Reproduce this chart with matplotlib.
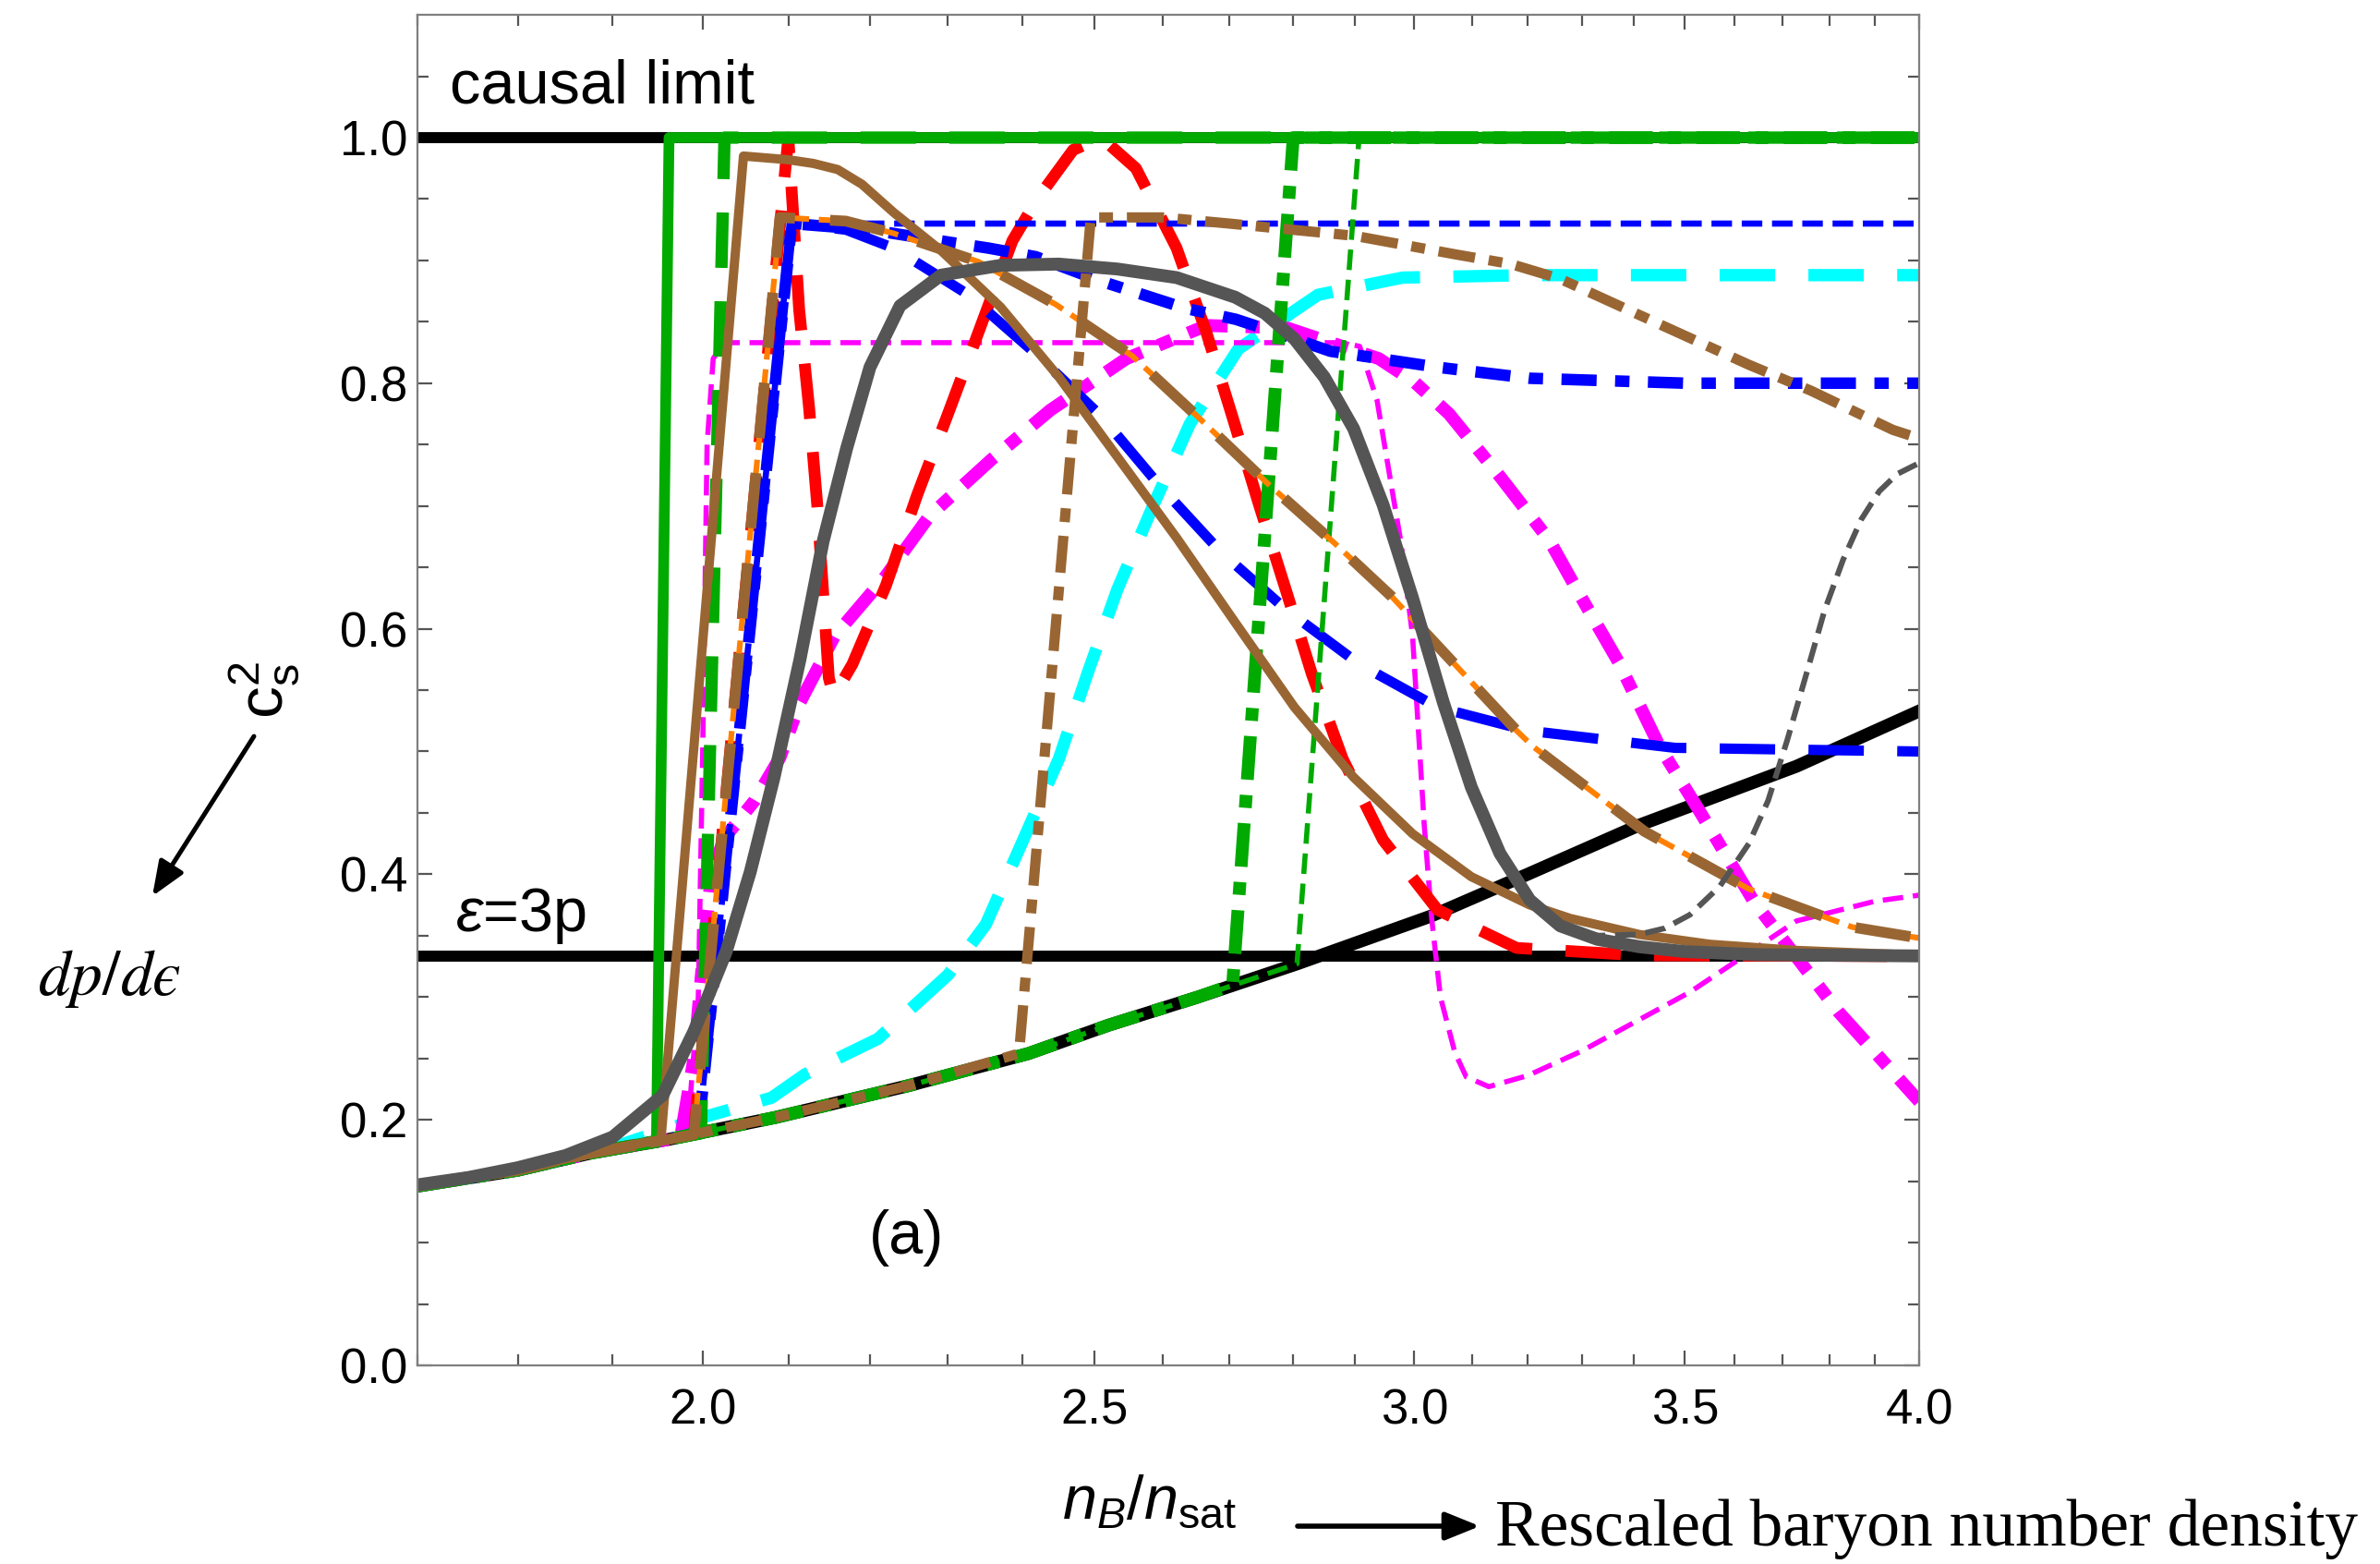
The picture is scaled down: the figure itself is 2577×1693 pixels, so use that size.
import matplotlib.pyplot as plt
from matplotlib.ticker import NullFormatter

plt.rcParams['font.family'] = ['Liberation Sans', 'DejaVu Sans']
plt.rcParams['mathtext.fontset'] = 'custom'
plt.rcParams['mathtext.rm'] = 'Liberation Sans'
plt.rcParams['mathtext.it'] = 'Liberation Sans:italic'
plt.rcParams['lines.scale_dashes'] = False

# nuclear EOS baseline (black)
base_x = [1.70, 1.80, 1.877, 1.961, 2.085, 2.25, 2.408, 2.52, 2.652, 2.806, 3.029, 3.20, 3.41, 3.73, 4.00]
base_y = [0.146, 0.159, 0.173, 0.184, 0.202, 0.228, 0.254, 0.277, 0.300, 0.327, 0.366, 0.400, 0.440, 0.488, 0.533]

# each curve: points after it leaves the baseline
green_x = [1.948, 1.962, 4.0]
green_y = [0.182, 1.0, 1.0]
green_dash_x = [1.998, 2.025, 4.0]
green_dash_y = [0.189, 1.0, 1.0]
green_dd_x = [2.705, 2.80, 4.0]
green_dd_y = [0.310, 1.0, 1.0]
green_thin_x = [2.806, 2.907, 4.0]
green_thin_y = [0.327, 1.0, 1.0]

red_x = [1.99, 2.10, 2.113, 2.125, 2.135, 2.143, 2.149, 2.155, 2.178, 2.22, 2.26, 2.30, 2.34, 2.386,
         2.42, 2.47, 2.51, 2.56, 2.62, 2.665, 2.705, 2.746, 2.788, 2.83, 2.88, 2.947, 3.04, 3.18, 3.41, 4.0]
red_y = [0.188, 1.0, 0.86, 0.78, 0.70, 0.62, 0.56, 0.545, 0.571, 0.635, 0.709, 0.775, 0.841, 0.916,
         0.95, 0.99, 1.0, 0.975, 0.91, 0.841, 0.772, 0.701, 0.632, 0.563, 0.494, 0.428, 0.371, 0.34, 0.334, 0.3333]

blue_thin_x = [1.995, 2.104, 4.0]
blue_thin_y = [0.190, 0.93, 0.93]
blue_dd_x = [1.995, 2.104, 2.2, 2.3, 2.354, 2.418, 2.51, 2.633, 2.71, 2.78, 2.86, 3.04, 3.204, 3.5, 4.0]
blue_dd_y = [0.190, 0.93, 0.925, 0.915, 0.91, 0.903, 0.883, 0.861, 0.852, 0.84, 0.826, 0.813, 0.804, 0.80, 0.80]
blue_long_x = [1.995, 2.104, 2.17, 2.23, 2.327, 2.418, 2.51, 2.594, 2.686, 2.79, 2.908, 3.04, 3.2, 3.48, 4.0]
blue_long_y = [0.190, 0.93, 0.925, 0.91, 0.872, 0.824, 0.773, 0.717, 0.663, 0.615, 0.571, 0.536, 0.517, 0.503, 0.50]

cyan_x = [1.89, 1.95, 2.005, 2.08, 2.12, 2.21, 2.30, 2.35, 2.40, 2.45, 2.49, 2.533, 2.585, 2.64, 2.714,
          2.84, 2.98, 3.2, 4.0]
cyan_y = [0.175, 0.19, 0.203, 0.218, 0.237, 0.266, 0.318, 0.359, 0.427, 0.494, 0.563, 0.632, 0.70, 0.767, 0.828,
          0.872, 0.886, 0.888, 0.888]

mag_dd_x = [1.975, 1.99, 2.0, 2.01, 2.025, 2.037, 2.06, 2.09, 2.114, 2.156, 2.22, 2.276, 2.358, 2.438, 2.546,
            2.665, 2.79, 2.94, 3.0, 3.06, 3.15, 3.24, 3.30, 3.37, 3.45, 3.53, 3.64, 3.82, 4.0]
mag_dd_y = [0.186, 0.25, 0.33, 0.40, 0.43, 0.44, 0.46, 0.495, 0.54, 0.594, 0.643, 0.692, 0.738, 0.778, 0.82,
            0.847, 0.845, 0.82, 0.801, 0.775, 0.724, 0.672, 0.625, 0.573, 0.504, 0.451, 0.378, 0.288, 0.215]
mag_thin_x = [1.97, 1.985, 1.995, 2.0, 2.005, 2.012, 2.025, 2.88, 2.908, 2.937, 2.957, 2.977, 2.997, 3.007,
              3.017, 3.03, 3.045, 3.07, 3.09, 3.13, 3.20, 3.30, 3.51, 3.73, 3.9, 4.0]
mag_thin_y = [0.186, 0.21, 0.30, 0.50, 0.75, 0.82, 0.833, 0.833, 0.83, 0.786, 0.728, 0.671, 0.594, 0.517,
              0.44, 0.363, 0.30, 0.255, 0.235, 0.227, 0.236, 0.256, 0.304, 0.362, 0.378, 0.383]

brown_dash_x = [1.99, 2.09, 2.17, 2.23, 2.34, 2.446, 2.555, 2.653, 2.76, 2.866, 2.962, 3.07, 3.18, 3.21,
                3.42, 3.63, 3.85, 4.0]
brown_dash_y = [0.188, 0.935, 0.932, 0.922, 0.899, 0.864, 0.822, 0.772, 0.718, 0.67, 0.626, 0.571, 0.517, 0.504,
                0.435, 0.388, 0.357, 0.348]
brown_dd_x = [2.395, 2.495, 2.6, 2.7, 2.9, 3.07, 3.17, 3.26, 3.45, 3.63, 3.76, 3.94, 4.0]
brown_dd_y = [0.254, 0.935, 0.935, 0.93, 0.92, 0.905, 0.897, 0.885, 0.848, 0.815, 0.794, 0.762, 0.755]
brown_x = [1.953, 2.047, 2.10, 2.13, 2.16, 2.19, 2.23, 2.291, 2.37, 2.45, 2.533, 2.62, 2.709, 2.802, 2.898,
           2.997, 3.099, 3.204, 3.279, 3.41, 3.55, 3.73, 4.0]
brown_y = [0.184, 0.985, 0.982, 0.979, 0.974, 0.962, 0.939, 0.908, 0.862, 0.805, 0.74, 0.674, 0.605, 0.536, 0.479,
           0.433, 0.398, 0.375, 0.364, 0.351, 0.343, 0.338, 0.334]

gray_x = [1.70, 1.75, 1.80, 1.85, 1.90, 1.955, 1.99, 2.027, 2.055, 2.083, 2.114, 2.142, 2.171, 2.20, 2.238,
          2.291, 2.37, 2.45, 2.533, 2.62, 2.709, 2.755, 2.802, 2.85, 2.898, 2.947, 2.997, 3.05, 3.099,
          3.15, 3.204, 3.26, 3.33, 3.41, 3.5, 3.65, 4.0]
gray_y = [0.147, 0.153, 0.161, 0.171, 0.186, 0.22, 0.272, 0.337, 0.402, 0.479, 0.575, 0.671, 0.747, 0.813, 0.863,
          0.888, 0.896, 0.897, 0.893, 0.886, 0.870, 0.857, 0.836, 0.805, 0.763, 0.701, 0.625, 0.540, 0.471,
          0.417, 0.379, 0.358, 0.347, 0.341, 0.337, 0.3345, 0.3335]
gray_dash_x = [3.15, 3.204, 3.26, 3.33, 3.41, 3.46, 3.51, 3.57, 3.63, 3.67, 3.71, 3.75, 3.79, 3.83, 3.87,
               3.91, 3.95, 4.0]
gray_dash_y = [0.417, 0.379, 0.358, 0.35, 0.351, 0.356, 0.367, 0.39, 0.425, 0.46, 0.509, 0.562, 0.615, 0.656,
               0.689, 0.712, 0.726, 0.735]


def on_base(xs, ys):
    # baseline points before the curve departs, then the curve itself
    bx = [x for x in base_x if x < xs[0]]
    by = [y for x, y in zip(base_x, base_y) if x < xs[0]]
    return bx + xs, by + ys


GREEN = '#00aa00'
BROWN = '#996633'
GRAY = '#555555'
LONG = (0, (21.6, 13))
THIN = (0, (8, 3.8))

fig = plt.figure(figsize=(12.885, 8.465), dpi=200)
ax = fig.add_axes([0.1754, 0.127, 0.631, 0.8635])
ax.set_xscale('log')

ax.plot([1.7, 4.0], [1.0, 1.0], color='k', lw=4.3)
ax.plot([1.7, 4.0], [1 / 3, 1 / 3], color='k', lw=4.3)
ax.plot(base_x, base_y, color='k', lw=5)

ax.plot(*on_base(cyan_x, cyan_y), color='cyan', lw=4.8, ls=LONG)
ax.plot(*on_base(mag_thin_x, mag_thin_y), color='magenta', lw=2, ls=THIN)
ax.plot(*on_base(mag_dd_x, mag_dd_y), color='magenta', lw=5, ls=(0, (16, 7, 5.5, 7)))
ax.plot(*on_base(red_x, red_y), color='red', lw=4.6, ls=LONG)
ax.plot(*on_base(blue_long_x, blue_long_y), color='blue', lw=4, ls=LONG)
ax.plot(*on_base(blue_dd_x, blue_dd_y), color='blue', lw=4.5, ls=(0, (13.7, 7.2, 5.6, 7.2)))
ax.plot(*on_base(blue_thin_x, blue_thin_y), color='blue', lw=2.4, ls=THIN)
ax.plot(*on_base(green_x, green_y), color=GREEN, lw=4.2)
ax.plot(*on_base(green_dash_x, green_dash_y), color=GREEN, lw=4.8, ls=LONG)
ax.plot(*on_base(green_dd_x, green_dd_y), color=GREEN, lw=5, ls=(0, (17, 6, 5, 6)))
ax.plot(*on_base(green_thin_x, green_thin_y), color=GREEN, lw=2, ls=THIN)
ax.plot(*on_base(brown_dash_x, brown_dash_y), color='#ff8000', lw=2.2, ls=THIN)
ax.plot(*on_base(brown_dash_x, brown_dash_y), color=BROWN, lw=4.2, ls=(6, (21.6, 13.7)))
ax.plot(*on_base(brown_dd_x, brown_dd_y), color=BROWN, lw=4, ls=(0, (14.4, 5.4, 5.4, 5.4)))
ax.plot(*on_base(brown_x, brown_y), color=BROWN, lw=3.6)
ax.plot(gray_dash_x, gray_dash_y, color=GRAY, lw=2.2, ls=THIN)
ax.plot(gray_x, gray_y, color=GRAY, lw=5)

ax.set_xlim(1.7, 4.0)
ax.set_ylim(0, 1.1)
ax.set_xticks([2.0, 2.5, 3.0, 3.5, 4.0], labels=['2.0', '2.5', '3.0', '3.5', '4.0'])
ax.set_xticks([1.7, 1.8, 1.9, 2.1, 2.2, 2.3, 2.4, 2.6, 2.7, 2.8, 2.9, 3.1, 3.2, 3.3, 3.4,
               3.6, 3.7, 3.8, 3.9], minor=True)
ax.xaxis.set_minor_formatter(NullFormatter())
ax.set_yticks([0.0, 0.2, 0.4, 0.6, 0.8, 1.0], labels=['0.0', '0.2', '0.4', '0.6', '0.8', '1.0'])
ax.set_yticks([0.05, 0.1, 0.15, 0.25, 0.3, 0.35, 0.45, 0.5, 0.55, 0.65, 0.7, 0.75,
               0.85, 0.9, 0.95, 1.05], minor=True)
ax.tick_params(which='both', direction='in', top=True, right=True, color='#555555',
               width=0.8, labelsize=19)
ax.tick_params(which='major', length=5.8)
ax.tick_params(which='minor', length=4.3)
ax.tick_params(axis='x', pad=9)
ax.tick_params(axis='y', pad=4)
for s in ax.spines.values():
    s.set_color('#7f7f7f')
    s.set_linewidth(0.8)

ax.text(1.732, 1.028, 'causal limit', fontsize=24, va='baseline')
ax.text(1.737, 0.354, '$\u03b5$=3p', fontsize=24, va='baseline')
ax.text(2.246, 0.104, '(a)', fontsize=24, ha='center', va='center')

fig.text(0.1114, 0.5588, r'$\mathregular{c_s^2}$', rotation=90, fontsize=25, ha='center', va='center')
fig.text(0.0458, 0.374, '$dp/d\u03f5$', fontsize=25, ha='center', va='center', math_fontfamily='stix')
head = '-|>,head_length=0.42,head_width=0.17'
ax.annotate('', xy=(0.064, 0.427), xytext=(0.1067, 0.5292), xycoords='figure fraction',
            arrowprops=dict(arrowstyle=head, lw=1.8, color='k', mutation_scale=27, shrinkA=0, shrinkB=0))
fig.text(0.4463, 0.0295, r'$n_B/n_{\mathrm{sat}}$', fontsize=24, va='baseline')
ax.annotate('', xy=(0.6218, 0.0242), xytext=(0.5452, 0.0242), xycoords='figure fraction',
            arrowprops=dict(arrowstyle=head, lw=2, color='k', mutation_scale=27, shrinkA=0, shrinkB=0))
fig.text(0.6282, 0.0118, 'Rescaled baryon number density', family='Liberation Serif',
         fontsize=25.7, va='baseline')

fig.savefig('out.png', dpi=200)
